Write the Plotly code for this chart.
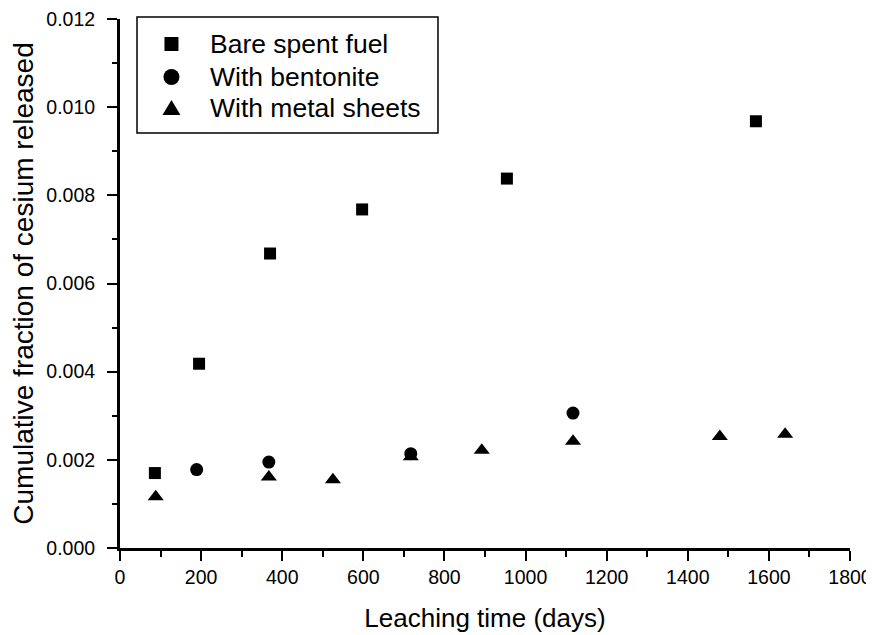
import plotly.graph_objects as go

# Bare spent fuel
bare_days = [86, 195, 370, 597, 954, 1568]
bare_frac = [0.00170, 0.00418, 0.00668, 0.00768, 0.00838, 0.00968]

# With bentonite
bent_days = [189, 367, 717, 1117]
bent_frac = [0.00178, 0.00195, 0.00214, 0.00306]

# With metal sheets
metal_days = [88, 367, 525, 717, 892, 1117, 1479, 1640]
metal_frac = [0.00116, 0.00161, 0.00155, 0.00207, 0.00222, 0.00242, 0.00253, 0.00258]

series_names = ["Bare spent fuel", "With bentonite", "With metal sheets"]

x_ticks = list(range(0, 1801, 200))
y_ticks = [0.000, 0.002, 0.004, 0.006, 0.008, 0.010, 0.012]

FONT = "Liberation Sans, Arial, sans-serif"

fig = go.Figure()
fig.add_trace(go.Scatter(x=bare_days, y=bare_frac, mode="markers", name=series_names[0],
                         marker=dict(symbol="square", size=12, color="black")))
fig.add_trace(go.Scatter(x=bent_days, y=bent_frac, mode="markers", name=series_names[1],
                         marker=dict(symbol="circle", size=13, color="black")))
fig.add_trace(go.Scatter(x=metal_days, y=metal_frac, mode="markers", name=series_names[2],
                         marker=dict(symbol="triangle-up", size=14, color="black")))

# The page body adds an 8px margin, so the figure is sized to fit the window.
fig.update_layout(
    width=866, height=627,
    margin=dict(l=112, r=24, t=11, b=87),
    paper_bgcolor="white", plot_bgcolor="white",
    font=dict(family=FONT, color="black"),
    showlegend=False,
)

# Custom legend box (matches the boxed legend of the original figure)
legend_rows_y = [0.9527, 0.8904, 0.8318]
sym_x = 0.0705
text_x = 0.1205
shapes = [
    dict(type="rect", xref="paper", yref="paper", x0=0.0233, x1=0.4356, y0=0.7845, y1=1.0038,
         line=dict(color="black", width=1.5), fillcolor="white", layer="below"),
    dict(type="rect", xref="paper", yref="paper", xsizemode="pixel", ysizemode="pixel",
         xanchor=sym_x, yanchor=legend_rows_y[0], x0=-7, x1=7, y0=-7, y1=7,
         line=dict(width=0), fillcolor="black"),
    dict(type="circle", xref="paper", yref="paper", xsizemode="pixel", ysizemode="pixel",
         xanchor=sym_x, yanchor=legend_rows_y[1], x0=-8, x1=8, y0=-8, y1=8,
         line=dict(width=0), fillcolor="black"),
    dict(type="path", xref="paper", yref="paper", xsizemode="pixel", ysizemode="pixel",
         xanchor=sym_x, yanchor=legend_rows_y[2], path="M-9,-7 L9,-7 L0,8 Z",
         line=dict(width=0), fillcolor="black"),
]
annotations = [
    dict(text=name, xref="paper", yref="paper", x=text_x, y=yy, xanchor="left", yanchor="middle",
         showarrow=False, font=dict(size=26.5, family=FONT, color="black"))
    for name, yy in zip(series_names, legend_rows_y)
]
fig.update_layout(shapes=shapes, annotations=annotations)

fig.update_xaxes(
    range=[0, 1800], tickvals=x_ticks, ticktext=[str(v) for v in x_ticks],
    showgrid=False, zeroline=False, automargin=False,
    showline=True, linecolor="black", linewidth=3,
    ticks="outside", ticklen=10, tickwidth=2, tickcolor="black",
    tickfont=dict(size=19.5, family=FONT, color="black"),
    ticklabelstandoff=0, ticklabeloverflow="allow",
    minor=dict(dtick=100, ticks="outside", ticklen=6, tickwidth=2, tickcolor="black"),
    title=dict(text="Leaching time (days)", font=dict(size=26, family=FONT, color="black"), standoff=22),
)
fig.update_yaxes(
    range=[0, 0.012], tickvals=y_ticks, ticktext=[f"{v:.3f}" for v in y_ticks],
    showgrid=False, zeroline=False, automargin=False,
    showline=True, linecolor="black", linewidth=3,
    ticks="outside", ticklen=10, tickwidth=2, tickcolor="black",
    tickfont=dict(size=19.5, family=FONT, color="black"),
    ticklabelstandoff=8, ticklabeloverflow="allow",
    minor=dict(dtick=0.001, ticks="outside", ticklen=5, tickwidth=2, tickcolor="black"),
    title=dict(text="Cumulative fraction of cesium released", font=dict(size=28, family=FONT, color="black"), standoff=10),
)

fig.write_html("out.html")
